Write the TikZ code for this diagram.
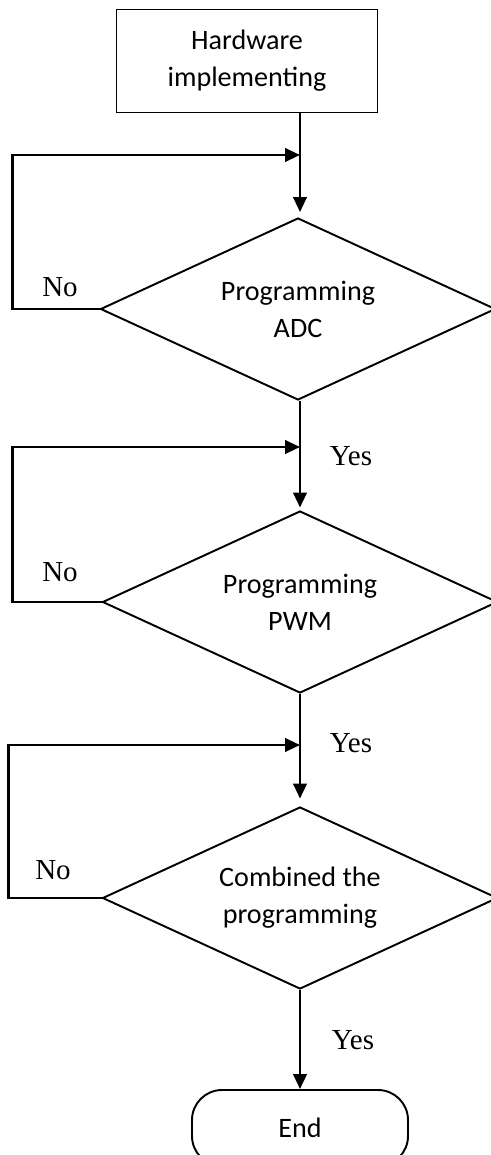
\documentclass[tikz,border=0pt]{standalone}
\usepackage{fontspec}
\setmainfont{Liberation Serif}
\newfontfamily\bodyfont{Carlito}
\usetikzlibrary{shapes.geometric,arrows.meta}

\tikzset{
  block/.style={draw,line width=1.1pt,minimum width=5.22cm,minimum height=2.06cm,
    inner sep=0pt,align=center,font=\bodyfont\fontsize{16}{21}\selectfont},
  decision/.style={draw,diamond,aspect=2.2,line width=1.1pt,minimum width=7.9cm,minimum height=3.64cm,
    inner sep=0pt,align=center,font=\bodyfont\fontsize{16}{21}\selectfont},
  terminal/.style={draw,line width=1.1pt,rounded corners=0.6cm,minimum width=4.32cm,
    minimum height=1.52cm,inner sep=0pt,font=\bodyfont\fontsize{16}{21}\selectfont},
  flow/.style={line width=1.5pt,-{Triangle[length=3mm,width=2.7mm]}},
  answer/.style={font=\fontsize{16.5}{20}\selectfont,inner sep=0pt},
}

\begin{document}
\begin{tikzpicture}[x=0.2mm,y=-0.2mm]
\useasboundingbox (0,0) rectangle (490,1155);

\node[block] (hw) at (247,61) {Hardware\\implementing}; %start box
\node[decision] (adc) at (298,309) {Programming\\ADC}; %tests
\node[decision] (pwm) at (300,602) {Programming\\PWM};
\node[decision] (comb) at (300,898) {Combined the\\programming};
\node[terminal] (end) at (300,1128) {End};

\coordinate (j1) at (300,155); %loop joints
\coordinate (j2) at (300,447);
\coordinate (j3) at (300,745);

\draw[flow,shorten >=1mm] (hw.south -| j1) -- (j1 |- adc.north); %main line
\draw[flow,shorten >=0.5mm] (adc.south -| j2) -- (pwm.north);
\draw[flow,shorten >=1.5mm] (pwm.south) -- (comb.north);
\draw[flow] (comb.south) -- (end.north);

\draw[flow] (adc.west) -- ++(-87,0) |- (j1); %no loops
\draw[flow] (pwm.west) -- ++(-89,0) |- (j2);
\draw[flow] (comb.west) -- ++(-93,0) |- (j3);

\node[answer] (no1) at (60,287) {No}; %labels
\node[answer] (no2) at (60,572) {No};
\node[answer] (no3) at (53,870) {No};
\node[answer] (yes1) at (351,456) {Yes};
\node[answer] (yes2) at (351,743) {Yes};
\node[answer] (yes3) at (353,1040) {Yes};
\end{tikzpicture}
\end{document}
